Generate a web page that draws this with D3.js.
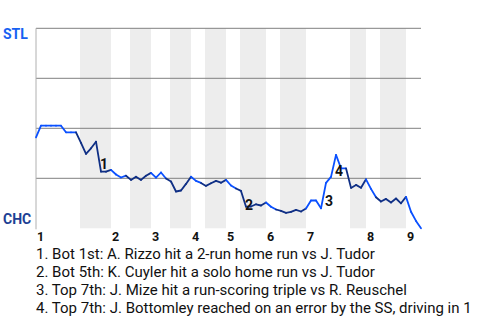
<!DOCTYPE html>
<html>
<head>
<meta charset="utf-8">
<script src="https://cdn.jsdelivr.net/npm/d3@7"></script>
<style>
  html, body { margin: 0; padding: 0; background: #fff; }
  svg { display: block; font-family: Roboto, "Noto Sans", sans-serif; }
</style>
</head>
<body>
<svg id="chart" width="480" height="320"></svg>
<script>
// Win probability for STL (1 = STL wins, 0 = CHC wins), one value per play
const probSTL = [
  0.455, 0.513, 0.513, 0.513, 0.513, 0.513, 0.48, 0.48, 0.48, 0.427,
  0.372, 0.40, 0.433, 0.283, 0.283, 0.292, 0.269, 0.254, 0.263, 0.242,
  0.258, 0.242, 0.263, 0.277, 0.253, 0.279, 0.249, 0.234, 0.184, 0.189,
  0.222, 0.258, 0.237, 0.227, 0.212, 0.225, 0.237, 0.228, 0.242, 0.214,
  0.199, 0.187, 0.108, 0.109, 0.12, 0.114, 0.129, 0.108, 0.094, 0.087,
  0.077, 0.082, 0.092, 0.084, 0.099, 0.139, 0.139, 0.10, 0.227, 0.257,
  0.367, 0.30, 0.30, 0.202, 0.217, 0.203, 0.245, 0.197, 0.155, 0.134,
  0.147, 0.129, 0.149, 0.125, 0.157, 0.083, 0.037, 0.0
];
// Play index at which each inning starts
const inningStarts = [0, 15, 23, 31, 38, 46, 54, 66, 74];
const inningLabels = ["1", "2", "3", "4", "5", "6", "7", "8", "9"];
// Bottom halves (CHC batting): first and last play index
const bottomFirst = [9, 19, 27, 34, 41, 49, 63, 69];
const bottomLast  = [15, 23, 31, 38, 46, 54, 66, 74];
// Key plays
const keyPlayIndex = [13, 42, 58, 60];
const keyPlayText = [
  "1. Bot 1st: A. Rizzo hit a 2-run home run vs J. Tudor",
  "2. Bot 5th: K. Cuyler hit a solo home run vs J. Tudor",
  "3. Top 7th: J. Mize hit a run-scoring triple vs R. Reuschel",
  "4. Top 7th: J. Bottomley reached on an error by the SS, driving in 1"
];
const yGrid = [0.25, 0.5, 0.75, 1];
const teams = ["STL", "CHC"];

(function () {
const svg = d3.select("#chart");
const mLeft = 36, mRight = 421, mTop = 28.3, mBottom = 228.3;
const nPlays = probSTL.length - 1;

const x = d3.scaleLinear().domain([0, nPlays]).range([mLeft, mRight]);
const y = d3.scaleLinear().domain([0, 1]).range([mBottom, mTop]);

// shaded bottom halves
svg.append("g").selectAll("rect")
  .data(bottomFirst.map((s, i) => [s, bottomLast[i]]))
  .join("rect")
  .attr("x", d => x(d[0] - 0.2))
  .attr("width", d => x(d[1]) - x(d[0] - 0.2))
  .attr("y", y(1))
  .attr("height", y(0) - y(1))
  .attr("fill", "#ededed");

// horizontal gridlines
svg.append("g").selectAll("line")
  .data(yGrid)
  .join("line")
  .attr("x1", mLeft).attr("x2", mRight)
  .attr("y1", d => y(d)).attr("y2", d => y(d))
  .attr("stroke", "#808080")
  .attr("stroke-width", 1);

// left axis line
svg.append("line")
  .attr("x1", mLeft).attr("x2", mLeft)
  .attr("y1", y(1)).attr("y2", y(0) + 1)
  .attr("stroke", "#b0b0b0")
  .attr("stroke-width", 1);

// team labels
svg.append("text").text(teams[0])
  .attr("x", 3).attr("y", y(1) + 11)
  .attr("font-size", 14).attr("font-weight", "bold")
  .attr("fill", "#1660f2");
svg.append("text").text(teams[1])
  .attr("x", 3).attr("y", y(0) - 4)
  .attr("font-size", 14).attr("font-weight", "bold")
  .attr("fill", "#1d3f94");

// inning labels
svg.append("g").selectAll("text")
  .data(inningStarts)
  .join("text")
  .attr("x", d => x(d) + 1)
  .attr("y", 241)
  .attr("font-size", 12.5).attr("font-weight", "bold")
  .attr("fill", "#111")
  .text((d, i) => inningLabels[i]);

// line segments, colored by batting team
const isBottom = j => bottomFirst.some((s, k) => j >= s && j <= bottomLast[k]);
const segs = d3.range(1, probSTL.length).map(j => ({ a: j - 1, b: j, bot: isBottom(j) }));
svg.append("g").selectAll("line")
  .data(segs)
  .join("line")
  .attr("x1", d => x(d.a)).attr("y1", d => y(probSTL[d.a]))
  .attr("x2", d => x(d.b)).attr("y2", d => y(probSTL[d.b]))
  .attr("stroke", d => d.bot ? "#0f2f85" : "#0a50ff")
  .attr("stroke-width", 1.8)
  .attr("stroke-linecap", "round");

// key play markers
const labelOffsets = [[3, -3], [3, 3.3], [3, 23.5], [3, 21]];
svg.append("g").selectAll("text")
  .data(keyPlayIndex)
  .join("text")
  .attr("x", (d, i) => x(d) + labelOffsets[i][0])
  .attr("y", (d, i) => y(probSTL[d]) + labelOffsets[i][1])
  .attr("text-anchor", "middle")
  .attr("font-size", 14).attr("font-weight", "bold")
  .attr("fill", "#111")
  .text((d, i) => String(i + 1));

// key play descriptions
svg.append("g").selectAll("text")
  .data(keyPlayText)
  .join("text")
  .attr("x", mLeft)
  .attr("y", (d, i) => 258.5 + i * 18)
  .attr("font-size", 15)
  .attr("fill", "#111")
  .text(d => d);
})();
</script>
</body>
</html>
